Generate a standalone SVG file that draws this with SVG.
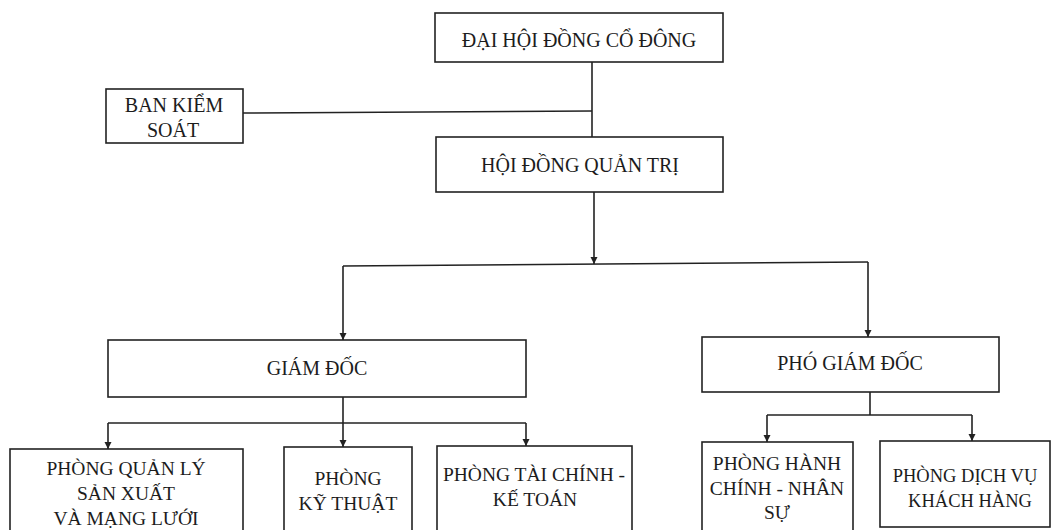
<svg xmlns="http://www.w3.org/2000/svg" width="1052" height="530" viewBox="0 0 1052 530">
<style>
.box{fill:#fff;stroke:#222;stroke-width:1.6}
.t{font-family:"Liberation Serif","Times New Roman",serif;font-size:20px;fill:#1c1c1c;text-anchor:middle}
.s{font-size:19.5px}
.c{fill:none;stroke:#222;stroke-width:1.6}
</style>
<defs>
<marker id="arr" markerUnits="userSpaceOnUse" markerWidth="8" markerHeight="8" refX="7" refY="3.5" orient="auto">
<path d="M0,0 L7,3.5 L0,7 z" fill="#222"/>
</marker>
</defs>
<rect width="1052" height="530" fill="#fff"/>
<g id="connectors">
<path class="c" d="M592,62 V137"/>
<path class="c" d="M243,113 L592,111"/>
<path class="c" d="M594,192 V264" marker-end="url(#arr)"/>
<path class="c" d="M343,266 L868,262"/>
<path class="c" d="M343,266 V340" marker-end="url(#arr)"/>
<path class="c" d="M868,262 V337" marker-end="url(#arr)"/>
<path class="c" d="M343,397 V447" marker-end="url(#arr)"/>
<path class="c" d="M108,423 H526"/>
<path class="c" d="M108,423 V449" marker-end="url(#arr)"/>
<path class="c" d="M526,423 V446" marker-end="url(#arr)"/>
<path class="c" d="M870,392 V415"/>
<path class="c" d="M767,415 H972"/>
<path class="c" d="M767,415 V442" marker-end="url(#arr)"/>
<path class="c" d="M972,415 V441" marker-end="url(#arr)"/>
</g>
<g id="dhdcd">
<rect class="box" x="435" y="13" width="288" height="49"/>
<text class="t" x="579" y="47">ĐẠI HỘI ĐỒNG CỔ ĐÔNG</text>
</g>
<g id="bks">
<rect class="box" x="106" y="89" width="137" height="54"/>
<text class="t" x="174" y="112">BAN KIỂM</text>
<text class="t" x="173" y="137">SOÁT</text>
</g>
<g id="hdqt">
<rect class="box" x="436" y="137" width="287" height="55"/>
<text class="t" x="580" y="172">HỘI ĐỒNG QUẢN TRỊ</text>
</g>
<g id="gd">
<rect class="box" x="108" y="340" width="418" height="57"/>
<text class="t" x="317" y="375">GIÁM ĐỐC</text>
</g>
<g id="pgd">
<rect class="box" x="702" y="337" width="297" height="55"/>
<text class="t" x="850" y="370">PHÓ GIÁM ĐỐC</text>
</g>
<g id="pqlsx">
<rect class="box" x="10" y="449" width="233" height="90"/>
<text class="t s" x="126" y="475">PHÒNG QUẢN LÝ</text>
<text class="t s" x="126" y="500">SẢN XUẤT</text>
<text class="t s" x="126" y="525">VÀ MẠNG LƯỚI</text>
</g>
<g id="kt">
<rect class="box" x="284" y="447" width="128" height="90"/>
<text class="t s" x="348" y="485">PHÒNG</text>
<text class="t s" x="348" y="510">KỸ THUẬT</text>
</g>
<g id="tc">
<rect class="box" x="437" y="446" width="195" height="90"/>
<text class="t s" x="534" y="481">PHÒNG TÀI CHÍNH -</text>
<text class="t s" x="535" y="506">KẾ TOÁN</text>
</g>
<g id="hcns">
<rect class="box" x="702" y="442" width="151" height="95"/>
<text class="t s" x="777" y="470">PHÒNG HÀNH</text>
<text class="t s" x="777" y="495">CHÍNH - NHÂN</text>
<text class="t s" x="777" y="519">SỰ</text>
</g>
<g id="dvkh">
<rect class="box" x="880" y="441" width="170" height="86"/>
<text class="t" style="font-size:18.5px" x="965" y="482">PHÒNG DỊCH VỤ</text>
<text class="t" style="font-size:18.5px" x="970" y="507">KHÁCH HÀNG</text>
</g>
</svg>
